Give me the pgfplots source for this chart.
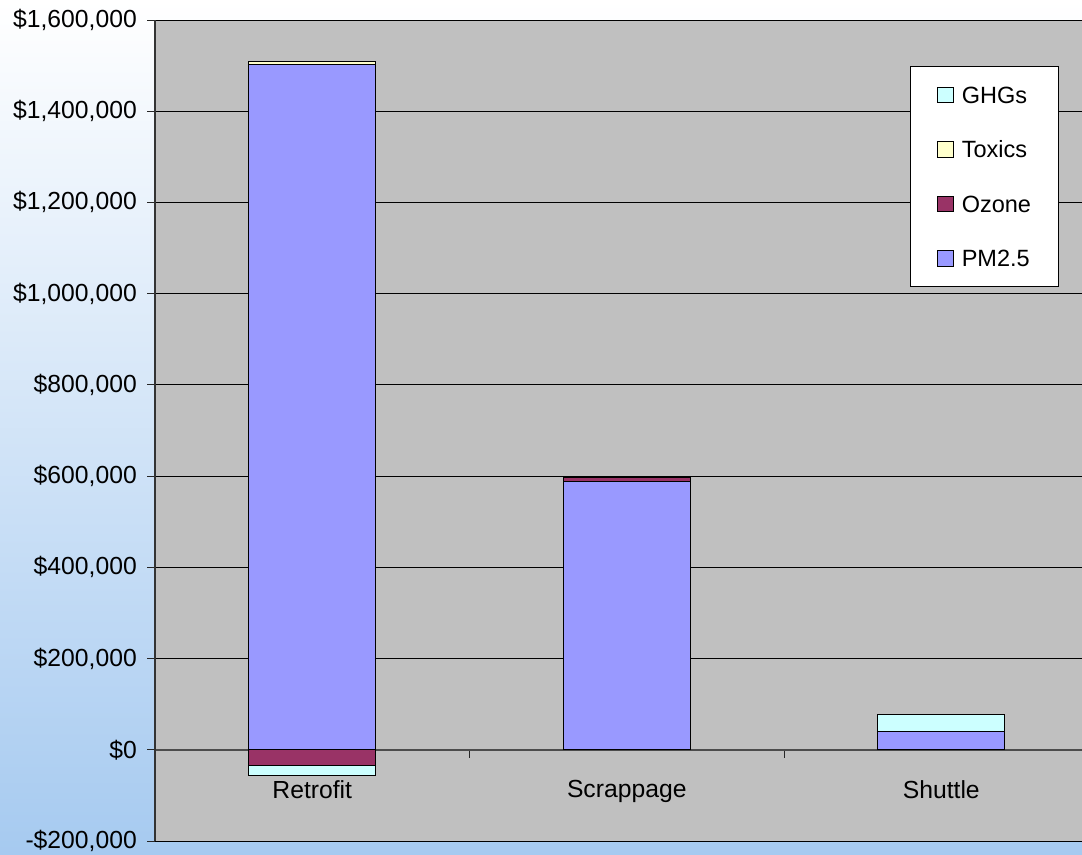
\documentclass[border=0pt]{standalone}
\usepackage{pgfplots}
\pgfplotsset{compat=1.18}
\usepackage{fontspec}
\setmainfont{Liberation Sans}
\definecolor{pmc}{RGB}{153,153,255}
\definecolor{ozc}{RGB}{153,51,102}
\definecolor{txc}{RGB}{255,255,204}
\definecolor{ghc}{RGB}{204,255,255}
\definecolor{plotbg}{RGB}{192,192,192}
\definecolor{bgblue}{RGB}{166,202,240}
\begin{document}
\begin{tikzpicture}[x=1bp,y=1bp]
\shade[top color=white, bottom color=bgblue] (0,0) rectangle (1082,855);
\begin{axis}[
  at={(155bp,14bp)}, anchor=south west,
  scale only axis, width=927bp, height=821bp,
  ybar stacked, bar width=0.404,
  xmin=0.5, xmax=3.4475,
  ymin=-200000, ymax=1600000,
  axis y line=left, axis x line=middle,
  axis line style={-},
  x axis line style={gray!60!black, line width=1.5bp},
  y axis line style={gray!40!black, line width=1.2bp},
  hide obscured y ticks=false, hide obscured x ticks=false,
  axis background/.style={fill=plotbg},
  ymajorgrids, grid style={black, line width=0.8bp},
  tick align=outside, major tick length=8bp,
  tick style={gray!30!black, line width=0.9bp},
  ytick={-200000,0,200000,400000,600000,800000,1000000,1200000,1400000,1600000},
  yticklabels={{-\$200,000},{\$0},{\$200,000},{\$400,000},{\$600,000},{\$800,000},{\$1,000,000},{\$1,200,000},{\$1,400,000},{\$1,600,000}},
  xtick={1.5,2.5}, xticklabels={,,},
  extra x ticks={1,2,3},
  extra x tick labels={Retrofit,Scrappage,Shuttle},
  extra x tick style={major tick length=0pt, xticklabel style={anchor=north, yshift=-27bp}},
  tick label style={font=\fontsize{24.8}{29}\selectfont, text=black},
  yticklabel style={inner sep=0pt, xshift=-10bp},
  legend style={at={(0.8145,0.944)}, anchor=north west, draw=black, fill=white,
    line width=0.8bp, font=\fontsize{23.6}{28}\selectfont,
    inner xsep=27bp, inner ysep=20bp,
    nodes={inner sep=0pt, text height=17bp, text depth=0bp},
    /tikz/row sep=37.5bp, /tikz/column sep=8bp},
  legend cell align=left,
]
\addplot[forget plot, fill=ozc, draw=black, line width=0.9bp] coordinates {(1,-34500) (2,0) (3,0)};
\addplot[forget plot, fill=ghc, draw=black, line width=0.9bp] coordinates {(1,-21000) (2,0) (3,0)};
\addplot[forget plot, fill=pmc, draw=black, line width=0.9bp] coordinates {(1,1502000) (2,587600) (3,39500)};
\addplot[forget plot, fill=ozc, draw=black, line width=0.9bp] coordinates {(1,0) (2,9000) (3,0)};
\addplot[forget plot, fill=txc, draw=black, line width=0.9bp] coordinates {(1,8000) (2,2000) (3,0)};
\addplot[forget plot, fill=ghc, draw=black, line width=0.9bp] coordinates {(1,0) (2,0) (3,39000)};
\addlegendimage{legend image code/.code={\draw[fill=ghc, draw=black, line width=0.8bp] (0bp,-7.75bp) rectangle (15.5bp,7.75bp);}}
\addlegendentry{GHGs}
\addlegendimage{legend image code/.code={\draw[fill=txc, draw=black, line width=0.8bp] (0bp,-7.75bp) rectangle (15.5bp,7.75bp);}}
\addlegendentry{Toxics}
\addlegendimage{legend image code/.code={\draw[fill=ozc, draw=black, line width=0.8bp] (0bp,-7.75bp) rectangle (15.5bp,7.75bp);}}
\addlegendentry{Ozone}
\addlegendimage{legend image code/.code={\draw[fill=pmc, draw=black, line width=0.8bp] (0bp,-7.75bp) rectangle (15.5bp,7.75bp);}}
\addlegendentry{PM2.5}
\end{axis}
\pgfresetboundingbox
\useasboundingbox (0,0) rectangle (1082,855);
\end{tikzpicture}
\end{document}
